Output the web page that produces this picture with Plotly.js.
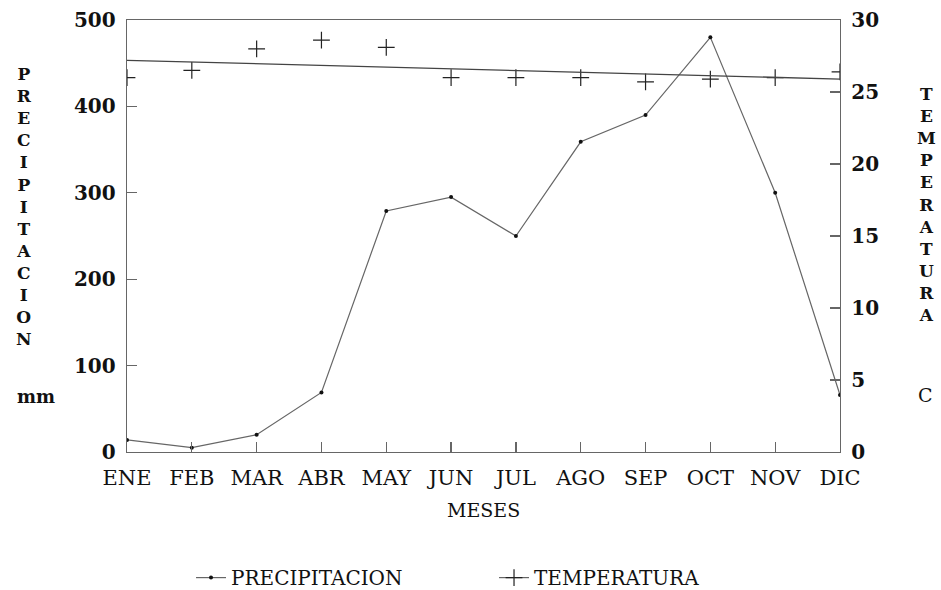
<!DOCTYPE html>
<html>
<head>
<meta charset="utf-8">
<script src="https://cdn.plot.ly/plotly-3.0.1.min.js"></script>
<style>html,body{margin:0;padding:0;background:#fff;}#chart{width:941px;height:590px;}</style>
</head>
<body>
<div id="chart"></div>
<script>
const months = ["ENE","FEB","MAR","ABR","MAY","JUN","JUL","AGO","SEP","OCT","NOV","DIC"];
const precipitacion = [14, 5, 20, 69, 279, 295, 250, 359, 390, 480, 300, 66];
const temperatura = [26.0, 26.5, 28.0, 28.6, 28.1, 26.0, 26.0, 26.0, 25.7, 25.9, 26.0, 26.4];
const trendMonths = ["ENE", "DIC"];
const trendTemp = [27.2, 25.9];

const FONT = "DejaVu Serif, Liberation Serif, serif";
const TXT = "#111";
const AX = "#666";
const idx = m => months.indexOf(m);
const FB = (size) => ({family: FONT, size: size, color: TXT, weight: "bold"});
const FR = (size) => ({family: FONT, size: size, color: TXT, weight: "normal"});

const crossMarker = {symbol: "cross-thin", size: 12, line: {color: "#222", width: 1.2}};

const traces = [
  {
    x: months.map(idx), y: precipitacion, yaxis: "y",
    mode: "lines+markers", name: "PRECIPITACION", showlegend: false,
    line: {color: "#666", width: 1.2},
    marker: {color: "#111", size: 4}
  },
  {
    x: months.map(idx), y: temperatura, yaxis: "y2",
    mode: "markers", name: "TEMPERATURA", showlegend: false,
    marker: crossMarker
  },
  {
    x: trendMonths.map(idx), y: trendTemp, yaxis: "y2",
    mode: "lines", showlegend: false, hoverinfo: "skip",
    line: {color: "#444", width: 1.3}
  },
  {
    x: [null], y: [null], mode: "lines+markers", name: "PRECIPITACION",
    line: {color: "#666", width: 1.2}, marker: {color: "#111", size: 4}
  },
  {
    x: [null], y: [null], mode: "lines+markers", name: "TEMPERATURA",
    line: {color: "#666", width: 1.2}, marker: crossMarker
  }
];

const vert = s => s.split("").join("<br>");

const layout = {
  width: 941, height: 590,
  margin: {l: 127, r: 101, t: 20, b: 138, autoexpand: false},
  paper_bgcolor: "#fff", plot_bgcolor: "#fff",
  font: FR(18),
  showlegend: true,
  legend: {orientation: "h", xref: "container", yref: "container",
           x: 0.203, xanchor: "left", y: 0.021, yanchor: "middle",
           font: FR(20),
           entrywidth: 258, entrywidthmode: "pixels", traceorder: "normal",
           bgcolor: "rgba(0,0,0,0)"},
  xaxis: {
    range: [0, 11], tickmode: "array", tickvals: months.map(idx), ticktext: months,
    ticks: "inside", ticklen: 10, tickcolor: AX, tickwidth: 1.2, showgrid: false, zeroline: false,
    showline: true, linecolor: AX, linewidth: 1.3, mirror: true, automargin: false,
    ticklabelstandoff: 6,
    tickfont: FR(21)
  },
  yaxis: {
    range: [0, 500], dtick: 100, ticks: "inside", ticklen: 10, tickcolor: AX, tickwidth: 1.2,
    showgrid: false, zeroline: false, showline: true, linecolor: AX, linewidth: 1.3, mirror: true,
    automargin: false, ticklabelstandoff: 6,
    tickfont: FB(20)
  },
  yaxis2: {
    range: [0, 30], dtick: 5, overlaying: "y", side: "right",
    ticks: "inside", ticklen: 10, tickcolor: AX, tickwidth: 1.2,
    showgrid: false, zeroline: false, showline: true, linecolor: AX, linewidth: 1.3,
    automargin: false, ticklabelstandoff: 6,
    tickfont: FB(20)
  },
  annotations: [
    {text: "MESES", xref: "paper", yref: "paper", x: 0.5, y: 0, yshift: -58,
     xanchor: "center", yanchor: "middle", showarrow: false,
     font: FR(19)},
    {text: vert("PRECIPITACION"), xref: "paper", yref: "paper", x: -0.1445, y: 0.568,
     xanchor: "center", yanchor: "middle", showarrow: false, align: "center",
     font: FB(17)},
    {text: "mm", xref: "paper", yref: "paper", x: -0.1276, y: 0.1296,
     xanchor: "center", yanchor: "middle", showarrow: false,
     font: FB(18)},
    {text: vert("TEMPERATURA"), xref: "paper", yref: "paper", x: 1.122, y: 0.572,
     xanchor: "center", yanchor: "middle", showarrow: false, align: "center",
     font: FB(17)},
    {text: "C", xref: "paper", yref: "paper", x: 1.1206, y: 0.132,
     xanchor: "center", yanchor: "middle", showarrow: false,
     font: FR(19)}
  ]
};

Plotly.newPlot("chart", traces, layout, {displayModeBar: false, staticPlot: true});
</script>
</body>
</html>
